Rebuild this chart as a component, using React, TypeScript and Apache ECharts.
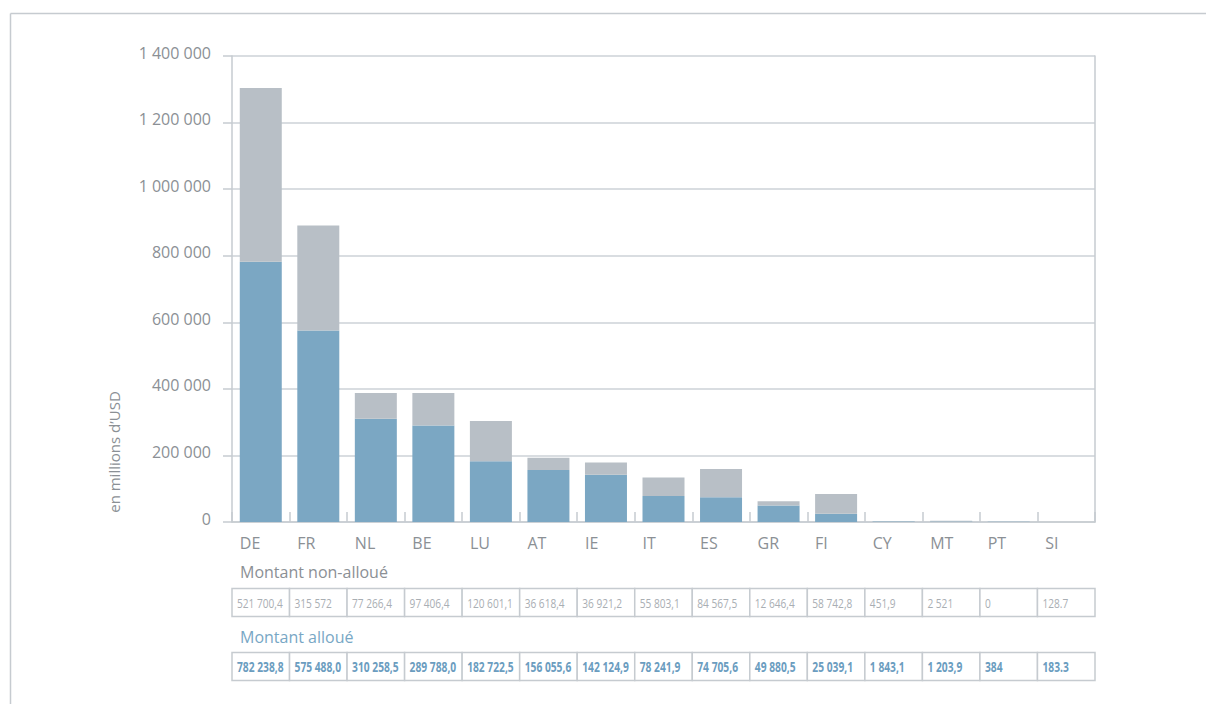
import React, { useEffect, useRef } from "react";
import * as echarts from "echarts";

// Country codes along the category axis
const categories = ["DE", "FR", "NL", "BE", "LU", "AT", "IE", "IT", "ES", "GR", "FI", "CY", "MT", "PT", "SI"];

// Amounts in millions of USD, as printed in the table under the chart
const unallocatedLabels = [
  "521 700,4", "315 572", "77 266,4", "97 406,4", "120 601,1", "36 618,4", "36 921,2", "55 803,1",
  "84 567,5", "12 646,4", "58 742,8", "451,9", "2 521", "0", "128.7",
];
const allocatedLabels = [
  "782 238,8", "575 488,0", "310 258,5", "289 788,0", "182 722,5", "156 055,6", "142 124,9", "78 241,9",
  "74 705,6", "49 880,5", "25 039,1", "1 843,1", "1 203,9", "384", "183.3",
];

const parseAmount = (s: string) => parseFloat(s.replace(/\s/g, "").replace(",", "."));
const unallocated = unallocatedLabels.map(parseAmount);
const allocated = allocatedLabels.map(parseAmount);

// Value axis range
const yMin = 0;
const yMax = 1400000;
const yStep = 200000;

const W = 1206;
const H = 704;
const GRID_LEFT = 232;
const GRID_RIGHT = 1095;
const GRID_TOP = 56;
const GRID_BOTTOM = 522;

const FONT = "'Open Sans', 'Noto Sans', sans-serif";
const LINE = "#c6cbd0";
const TEXT = "#8b9095";
const BLUE = "#7ba7c3";
const GREY = "#b8bfc6";
const TABLE_BLUE = "#6b9dbf";
const TABLE_GREY = "#a9aeb3";

const fmtThousands = (v: number) => String(v).replace(/\B(?=(\d{3})+(?!\d))/g, " ");

// One row of bordered cells, one cell per category, text squeezed to a condensed look
function tableRow(labels: string[], top: number, height: number, color: string, bold: boolean) {
  const cellW = (GRID_RIGHT - GRID_LEFT) / labels.length;
  const out: any[] = [];
  labels.forEach((label, i) => {
    const x = GRID_LEFT + i * cellW;
    out.push({
      type: "rect",
      shape: { x, y: top, width: cellW, height },
      style: { fill: "#fff", stroke: LINE, lineWidth: 1.5 },
      silent: true,
    });
    out.push({
      type: "text",
      x: x + 5,
      y: top + height / 2,
      scaleX: bold ? 0.76 : 0.75,
      style: {
        text: label,
        fill: color,
        font: `${bold ? "bold " : ""}13.5px ${FONT}`,
        textVerticalAlign: "middle",
        verticalAlign: "middle",
      },
      silent: true,
    });
  });
  return out;
}

export default function App() {
  const ref = useRef<HTMLDivElement>(null);

  useEffect(() => {
    if (!ref.current) return;
    const chart = echarts.init(ref.current, undefined, { renderer: "svg" });

    const graphics: any[] = [
      // outer frame (top and left edges)
      { type: "line", shape: { x1: 10.5, y1: 13.5, x2: W, y2: 13.5 }, style: { stroke: LINE, lineWidth: 1.5 }, silent: true },
      { type: "line", shape: { x1: 10.5, y1: 13.5, x2: 10.5, y2: H }, style: { stroke: LINE, lineWidth: 1.5 }, silent: true },
      {
        type: "text",
        x: 114,
        y: 452,
        rotation: Math.PI / 2,
        style: {
          text: "en millions d’USD",
          fill: TEXT,
          font: `15px ${FONT}`,
          textAlign: "center",
          textVerticalAlign: "middle",
          align: "center",
          verticalAlign: "middle",
        },
        silent: true,
      },
      {
        type: "text",
        x: 240,
        y: 572,
        style: { text: "Montant non-alloué", fill: TEXT, font: `16px ${FONT}`, verticalAlign: "middle", textVerticalAlign: "middle" },
        silent: true,
      },
      ...tableRow(unallocatedLabels, 588.5, 28, TABLE_GREY, false),
      {
        type: "text",
        x: 240,
        y: 637,
        style: { text: "Montant alloué", fill: "#78a7c5", font: `16px ${FONT}`, verticalAlign: "middle", textVerticalAlign: "middle" },
        silent: true,
      },
      ...tableRow(allocatedLabels, 652.5, 28, TABLE_BLUE, true),
    ];

    chart.setOption({
      animation: false,
      backgroundColor: "#ffffff",
      textStyle: { fontFamily: FONT },
      grid: {
        left: GRID_LEFT,
        right: W - GRID_RIGHT,
        top: GRID_TOP,
        bottom: H - GRID_BOTTOM,
        containLabel: false,
      },
      xAxis: {
        type: "category",
        data: categories,
        axisLine: { show: true, lineStyle: { color: LINE, width: 1.5 } },
        axisTick: { show: true, inside: true, length: 10, interval: 0, lineStyle: { color: LINE, width: 1.5 } },
        axisLabel: {
          interval: 0,
          margin: 13,
          formatter: (v: string) => `{a|${v}}`,
          rich: { a: { width: 42, align: "left", fontSize: 16, color: TEXT, fontFamily: FONT } },
        },
      },
      yAxis: [
        {
          type: "value",
          min: yMin,
          max: yMax,
          interval: yStep,
          axisLine: { show: true, lineStyle: { color: LINE, width: 1.5 } },
          axisTick: { show: true, length: 9, lineStyle: { color: LINE, width: 1.5 } },
          axisLabel: {
            margin: 21,
            formatter: (v: number) => `{v|${fmtThousands(v)}}`,
            rich: { v: { fontSize: 16, color: TEXT, fontFamily: FONT, padding: [0, 0, 7, 0] } },
          },
          splitLine: { show: true, lineStyle: { color: "#cdd2d7", width: 1.5 } },
        },
        {
          type: "value",
          position: "right",
          min: yMin,
          max: yMax,
          interval: yStep,
          axisLine: { show: true, lineStyle: { color: LINE, width: 1.5 } },
          axisTick: { show: false },
          axisLabel: { show: false },
          splitLine: { show: false },
        },
      ],
      series: [
        {
          name: "Montant alloué",
          type: "bar",
          stack: "total",
          data: allocated,
          barWidth: 42,
          itemStyle: { color: BLUE },
          silent: true,
        },
        {
          name: "Montant non-alloué",
          type: "bar",
          stack: "total",
          data: unallocated,
          barWidth: 42,
          itemStyle: { color: GREY },
          silent: true,
        },
      ],
      graphic: graphics,
    });

    return () => chart.dispose();
  }, []);

  return <div ref={ref} style={{ position: "absolute", left: 0, top: 0, width: W, height: H }} />;
}
